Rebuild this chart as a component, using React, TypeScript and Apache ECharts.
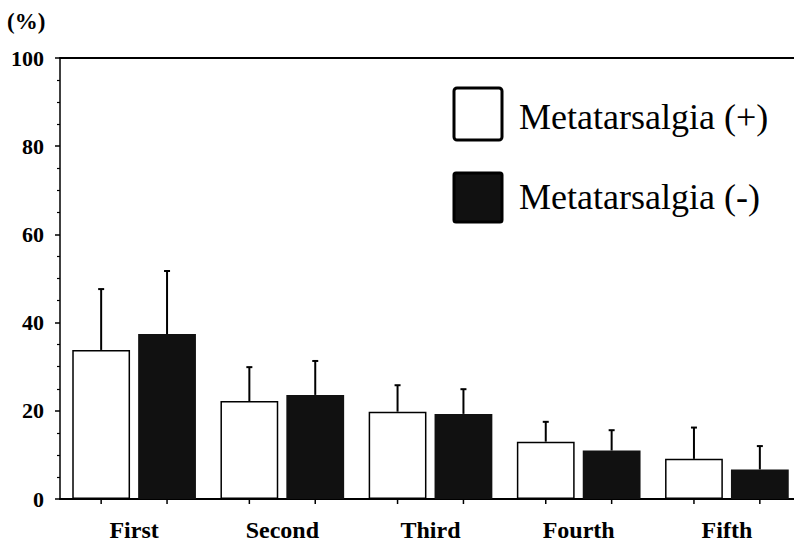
import React, { useEffect, useRef } from "react";
import * as echarts from "echarts";

const categories = ["First", "Second", "Third", "Fourth", "Fifth"];
const plusMean = [33.8, 22.2, 19.8, 13.0, 9.1];
const plusSD = [13.8, 7.7, 6.0, 4.5, 7.1];
const minusMean = [37.4, 23.6, 19.3, 11.0, 6.7];
const minusSD = [14.3, 7.7, 5.6, 4.6, 5.3];
const yTicks = [0, 20, 40, 60, 80, 100];
const legendNames = ["Metatarsalgia (+)", "Metatarsalgia (-)"];

const BAR_PCT = 0.39;
const GAP_PCT = 0.14;
const DARK = "#111111";

function errRender(sign: number) {
  return (params: any, api: any) => {
    const cat = api.value(0);
    const mean = api.value(1);
    const upper = api.value(2);
    const band = api.size([1, 0])[0];
    const bw = band * BAR_PCT;
    const off = (sign * (bw + bw * GAP_PCT)) / 2;
    const p1 = api.coord([cat, mean]);
    const p2 = api.coord([cat, upper]);
    const p0 = api.coord([cat, 0]);
    const x = p1[0] + off;
    const st = { stroke: "#000", lineWidth: 2 };
    return {
      type: "group",
      children: [
        { type: "line", shape: { x1: x, y1: p1[1], x2: x, y2: p2[1] }, style: st },
        { type: "line", shape: { x1: x - 3, y1: p2[1], x2: x + 3, y2: p2[1] }, style: st },
        { type: "line", shape: { x1: x, y1: p0[1], x2: x, y2: p0[1] + 5 }, style: { stroke: "#000", lineWidth: 1.5 } },
      ],
    };
  };
}

export default function App() {
  const ref = useRef<HTMLDivElement>(null);
  useEffect(() => {
    if (!ref.current) return;
    const chart = echarts.init(ref.current, undefined, { renderer: "svg" });
    const serif = "'Liberation Serif', 'Times New Roman', serif";
    chart.setOption({
      animation: false,
      backgroundColor: "#fff",
      grid: { left: 60, right: 0, top: 58, bottom: 47 },
      xAxis: [
        {
          type: "category",
          data: categories,
          axisLine: { show: true, lineStyle: { color: "#000", width: 2 } },
          axisTick: { show: false },
          axisLabel: {
            color: "#000",
            fontFamily: serif,
            fontWeight: "bold",
            fontSize: 24,
            margin: 19,
          },
        },
        {
          type: "category",
          position: "top",
          data: categories,
          axisLine: { show: true, lineStyle: { color: "#000", width: 2 } },
          axisTick: { show: false },
          axisLabel: { show: false },
        },
      ],
      yAxis: {
        type: "value",
        min: yTicks[0],
        max: yTicks[yTicks.length - 1],
        interval: 20,
        axisLine: { show: true, lineStyle: { color: "#000", width: 1.5 } },
        axisTick: { show: true, length: 5, lineStyle: { color: "#000", width: 1.5 } },
        minorTick: { show: true, splitNumber: 4, length: 3, lineStyle: { color: "#000", width: 1.2 } },
        splitLine: { show: false },
        axisLabel: {
          color: "#000",
          fontFamily: serif,
          fontWeight: "bold",
          fontSize: 22,
          margin: 16,
        },
      },
      series: [
        {
          name: legendNames[0],
          type: "bar",
          data: plusMean,
          barWidth: BAR_PCT * 100 + "%",
          barGap: GAP_PCT * 100 + "%",
          itemStyle: { color: "#fff", borderColor: "#000", borderWidth: 1.5 },
        },
        {
          name: legendNames[1],
          type: "bar",
          data: minusMean,
          barWidth: BAR_PCT * 100 + "%",
          barGap: GAP_PCT * 100 + "%",
          itemStyle: { color: DARK, borderColor: DARK, borderWidth: 0 },
        },
        {
          type: "custom",
          renderItem: errRender(-1),
          encode: { x: 0, y: [1, 2] },
          data: plusMean.map((m, i) => [i, m, m + plusSD[i]]),
          z: 3,
        },
        {
          type: "custom",
          renderItem: errRender(1),
          encode: { x: 0, y: [1, 2] },
          data: minusMean.map((m, i) => [i, m, m + minusSD[i]]),
          z: 3,
        },
      ],
      graphic: [
        {
          type: "text",
          left: 7,
          top: 10,
          style: { text: "(%)", font: `bold 23px ${serif}`, fill: "#000" },
        },
        {
          type: "rect",
          shape: { x: 454, y: 88, width: 48, height: 52, r: 3 },
          style: { fill: "#fff", stroke: "#000", lineWidth: 3 },
        },
        {
          type: "rect",
          shape: { x: 454, y: 173, width: 48, height: 49, r: 2 },
          style: { fill: DARK, stroke: "#000", lineWidth: 3 },
        },
        {
          type: "text",
          x: 519,
          y: 117,
          style: { text: legendNames[0], font: `36px ${serif}`, fill: "#000", textVerticalAlign: "middle" },
        },
        {
          type: "text",
          x: 519,
          y: 197,
          style: { text: legendNames[1], font: `36px ${serif}`, fill: "#000", textVerticalAlign: "middle" },
        },
      ],
    });
    return () => chart.dispose();
  }, []);
  return (
    <div style={{ position: "absolute", left: 0, top: 0, width: 794, height: 546, overflow: "hidden" }}>
      <div ref={ref} style={{ width: 801, height: 546 }} />
    </div>
  );
}
